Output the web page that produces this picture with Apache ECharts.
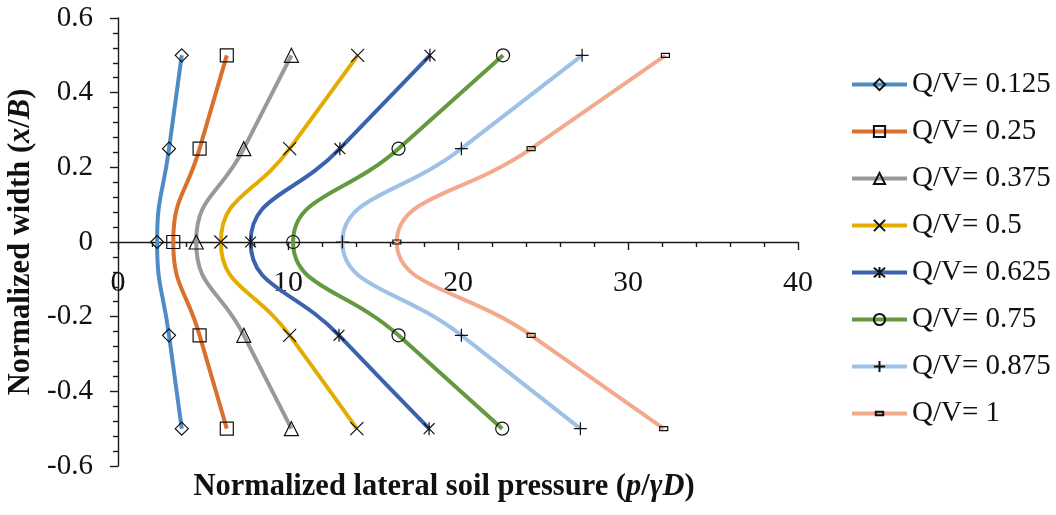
<!DOCTYPE html>
<html>
<head>
<meta charset="utf-8">
<script src="https://cdn.jsdelivr.net/npm/echarts@6/dist/echarts.min.js"></script>
<style>
html,body{margin:0;padding:0;background:#fff;}
#chart{width:1056px;height:515px;}
</style>
</head>
<body>
<div id="chart"></div>
<script>
// Normalized width levels (y values) shared by all series
const widthLevels = [0.5, 0.25, 0, -0.25, -0.5];
// Series names
const seriesNames = ['Q/V= 0.125', 'Q/V= 0.25', 'Q/V= 0.375', 'Q/V= 0.5', 'Q/V= 0.625', 'Q/V= 0.75', 'Q/V= 0.875', 'Q/V= 1'];
// Normalized lateral soil pressure at each width level
const qv0125 = [3.75, 3.0, 2.3, 3.0, 3.75];
const qv025  = [6.4, 4.8, 3.25, 4.8, 6.4];
const qv0375 = [10.2, 7.4, 4.6, 7.4, 10.2];
const qv05   = [14.1, 10.1, 6.05, 10.1, 14.05];
const qv0625 = [18.35, 13.05, 7.8, 13.0, 18.3];
const qv075  = [22.65, 16.5, 10.3, 16.5, 22.6];
const qv0875 = [27.3, 20.2, 13.2, 20.2, 27.2];
const qv1    = [32.2, 24.3, 16.4, 24.3, 32.1];
const seriesValues = [qv0125, qv025, qv0375, qv05, qv0625, qv075, qv0875, qv1];
// Axis tick ranges
const xTicks = {min: 0, max: 40, interval: 10};
const yTicks = {min: -0.6, max: 0.6, interval: 0.2};

const colors = ['#4E8CC6', '#D9702C', '#999999', '#E3AC00', '#3B62AE', '#63993F', '#9EC1E6', '#F3AA8C'];
const symbols = [
  'diamond',
  'rect',
  'triangle',
  'path://M0,0L10,10M10,0L0,10',
  'path://M0,0L10,10M10,0L0,10M5,-1L5,11',
  'circle',
  'path://M5,0L5,10M0,5L10,5',
  'path://M-2,-4M10,8M0,0L8,0L8,4L0,4Z'
];
const symbolSizes = [13, 13, 14, 13, 13, 13, 13, 12];

const font = '"Liberation Serif", "Times New Roman", serif';

const series = seriesValues.map((vals, i) => ({
  name: seriesNames[i],
  type: 'line',
  smooth: 0.5,
  data: vals.map((v, k) => [v, widthLevels[k]]),
  symbol: symbols[i],
  symbolSize: symbolSizes[i],
  symbolKeepAspect: true,
  showAllSymbol: true,
  lineStyle: {color: colors[i], width: 4},
  itemStyle: {color: 'rgba(255,255,255,0)', borderColor: '#111', borderWidth: 1.2},
  emphasis: {disabled: true},
  z: 2 + i
}));

const axisColor = '#1a1a1a';
const nameRich = {
  b: {fontFamily: font, fontWeight: 'bold', fontSize: 30.5, color: '#111'},
  bi: {fontFamily: font, fontWeight: 'bold', fontStyle: 'italic', fontSize: 30.5, color: '#111'}
};

const gridTop = 18, gridBottom = 49, chartH = 515;
// the x axis crosses the y axis at 0: shift it from the grid bottom to the middle
const xAxisOffset = -(chartH - gridTop - gridBottom) / 2;

const chart = echarts.init(document.getElementById('chart'), null, {renderer: 'canvas'});
chart.setOption({
  animation: false,
  backgroundColor: '#fff',
  textStyle: {fontFamily: font},
  grid: {left: 118, right: 258, top: gridTop, bottom: gridBottom, containLabel: false, outerBoundsMode: 'none'},
  legend: {
    orient: 'vertical',
    left: 845,
    top: 65,
    itemWidth: 55,
    itemHeight: 14,
    itemGap: 18,
    symbolKeepAspect: true,
    lineStyle: {width: 4},
    textStyle: {fontFamily: font, fontSize: 29, color: '#111', lineHeight: 28},
    data: seriesNames
  },
  xAxis: {
    type: 'value',
    min: xTicks.min, max: xTicks.max, interval: xTicks.interval,
    offset: xAxisOffset,
    axisLine: {onZero: false, lineStyle: {color: axisColor, width: 1.4}},
    axisTick: {show: true, inside: false, length: 8, lineStyle: {color: axisColor, width: 1.4}},
    minorTick: {show: true, splitNumber: 5, length: 5, lineStyle: {color: axisColor, width: 1.4}},
    axisLabel: {fontFamily: font, fontSize: 30, color: '#111', margin: 26},
    splitLine: {show: false},
    name: '{b|Normalized lateral soil pressure (}{bi|p}{b|/}{bi|γD}{b|)}',
    nameLocation: 'middle',
    nameGap: 230,
    nameTextStyle: {rich: nameRich, padding: [0, 28, 0, 0]}
  },
  yAxis: {
    type: 'value',
    min: yTicks.min, max: yTicks.max, interval: yTicks.interval,
    axisLine: {show: true, onZero: false, lineStyle: {color: axisColor, width: 1.4}},
    axisTick: {show: true, inside: false, length: 8, lineStyle: {color: axisColor, width: 1.4}},
    minorTick: {show: true, splitNumber: 5, length: 5, lineStyle: {color: axisColor, width: 1.4}},
    axisLabel: {
      fontFamily: font, fontSize: 29, color: '#111', margin: 25,
      formatter: v => String(Math.round(v * 10) / 10)
    },
    splitLine: {show: false},
    name: '{b|Normalized width (}{bi|x}{b|/}{bi|B}{b|)}',
    nameLocation: 'middle',
    nameRotate: 90,
    nameGap: 75,
    nameTextStyle: {rich: nameRich}
  },
  series: series
});
</script>
</body>
</html>
